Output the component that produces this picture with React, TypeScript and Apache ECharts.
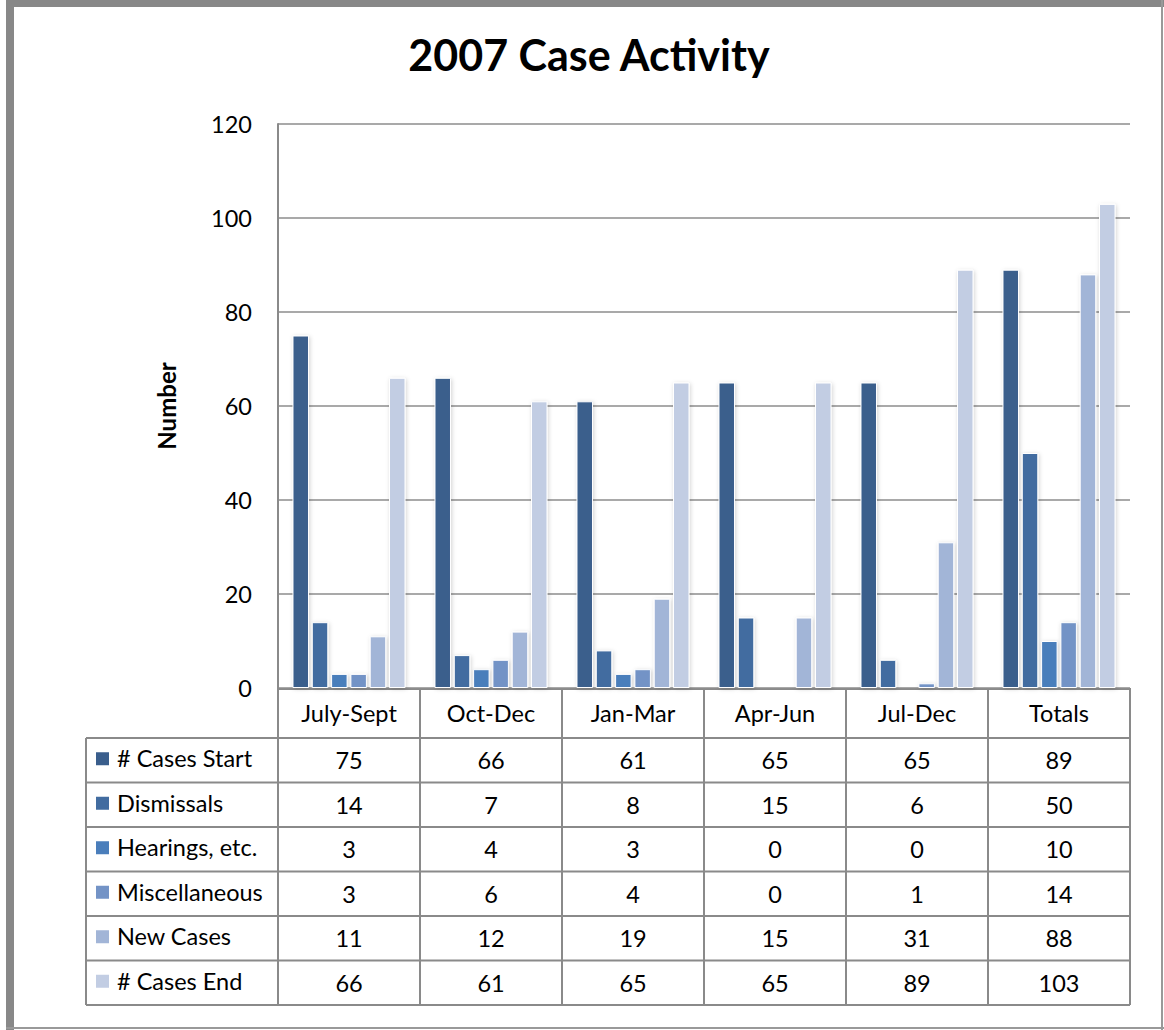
import React, { useEffect, useRef } from "react";
import * as echarts from "echarts";

const categories = ["July-Sept", "Oct-Dec", "Jan-Mar", "Apr-Jun", "Jul-Dec", "Totals"];
const seriesNames = ["# Cases Start", "Dismissals", "Hearings, etc.", "Miscellaneous", "New Cases", "# Cases End"];
const casesStart = [75, 66, 61, 65, 65, 89];
const dismissals = [14, 7, 8, 15, 6, 50];
const hearings = [3, 4, 3, 0, 0, 10];
const miscellaneous = [3, 6, 4, 0, 1, 14];
const newCases = [11, 12, 19, 15, 31, 88];
const casesEnd = [66, 61, 65, 65, 89, 103];
const seriesValues = [casesStart, dismissals, hearings, miscellaneous, newCases, casesEnd];
const seriesColors = ["#3A5E8C", "#426CA0", "#4A7EBB", "#7393C6", "#A2B5D7", "#C2CDE3"];
const yMin = 0;
const yMax = 120;
const yStep = 20;

const W = 1164;
const H = 1030;
const FONT = "Lato, 'Open Sans', sans-serif";
const AX_LEFT = 278;
const AX_RIGHT = 1130;
const AX_TOP = 124;
const AX_BOTTOM = 688;
const TABLE_LEFT = 86;
const HEAD_BOTTOM = 738;
const ROW_H = 44.5;
const LINE_COLOR = "#8a8a8a";
const FS = 23.5;

export default function App() {
  const ref = useRef<HTMLDivElement>(null);

  useEffect(() => {
    document.body.style.margin = "0";
    const chart = echarts.init(ref.current!, null, { renderer: "svg" });
    const colW = (AX_RIGHT - AX_LEFT) / categories.length;
    const tableBottom = HEAD_BOTTOM + ROW_H * seriesNames.length;
    const graphics: any[] = [];

    // outer frame
    graphics.push({ type: "rect", shape: { x: 6, y: 0, width: 8, height: H }, style: { fill: "#888" }, silent: true });
    graphics.push({ type: "rect", shape: { x: 6, y: 0, width: W - 6, height: 7 }, style: { fill: "#888" }, silent: true });
    graphics.push({ type: "rect", shape: { x: W - 3, y: 0, width: 2, height: H }, style: { fill: "#999" }, silent: true });
    graphics.push({ type: "rect", shape: { x: 6, y: H - 3, width: W - 6, height: 2 }, style: { fill: "#999" }, silent: true });

    // title
    graphics.push({
      type: "text",
      x: 589,
      y: 54,
      style: { text: "2007 Case Activity", font: `bold 43px ${FONT}`, fill: "#000", align: "center", verticalAlign: "middle" },
    });

    // table lines
    const hl = (x1: number, x2: number, y: number) =>
      graphics.push({ type: "line", shape: { x1, y1: y, x2, y2: y }, style: { stroke: LINE_COLOR, lineWidth: 2 }, silent: true });
    const vl = (x: number, y1: number, y2: number) =>
      graphics.push({ type: "line", shape: { x1: x, y1, x2: x, y2 }, style: { stroke: LINE_COLOR, lineWidth: 2 }, silent: true });

    hl(AX_LEFT, AX_RIGHT, AX_BOTTOM + 1);
    for (let r = 0; r <= seriesNames.length; r++) hl(TABLE_LEFT, AX_RIGHT, HEAD_BOTTOM + r * ROW_H);
    vl(TABLE_LEFT, HEAD_BOTTOM, tableBottom);
    for (let c = 0; c <= categories.length; c++) vl(AX_LEFT + c * colW, AX_BOTTOM, tableBottom);

    // table rows
    seriesNames.forEach((name, r) => {
      const cy = HEAD_BOTTOM + r * ROW_H + ROW_H / 2;
      graphics.push({ type: "rect", shape: { x: 96, y: cy - 8, width: 13, height: 13 }, style: { fill: seriesColors[r] } });
      graphics.push({
        type: "text",
        x: 117,
        y: cy - 2,
        style: { text: name, font: `${FS}px ${FONT}`, fill: "#000", align: "left", verticalAlign: "middle" },
      });
      seriesValues[r].forEach((v, c) => {
        graphics.push({
          type: "text",
          x: AX_LEFT + c * colW + colW / 2,
          y: cy,
          style: { text: String(v), font: `${FS}px ${FONT}`, fill: "#000", align: "center", verticalAlign: "middle" },
        });
      });
    });

    chart.setOption({
      animation: false,
      backgroundColor: "#fff",
      grid: { left: AX_LEFT, right: W - AX_RIGHT, top: AX_TOP, bottom: H - AX_BOTTOM, containLabel: false },
      xAxis: {
        type: "category",
        data: categories,
        axisLine: { show: false },
        axisTick: { show: false },
        axisLabel: { fontFamily: FONT, fontSize: FS, color: "#000", margin: 13 },
      },
      yAxis: {
        type: "value",
        min: yMin,
        max: yMax,
        interval: yStep,
        name: "Number",
        nameLocation: "middle",
        nameRotate: 90,
        nameGap: 100,
        nameTextStyle: { fontFamily: FONT, fontSize: 24, fontWeight: "bold", color: "#000" },
        axisLine: { show: true, lineStyle: { color: LINE_COLOR, width: 2 } },
        axisTick: { show: false },
        axisLabel: { fontFamily: FONT, fontSize: FS, color: "#000", margin: 26 },
        splitLine: { show: true, lineStyle: { color: "#8c8c8c", width: 1.5 } },
      },
      series: seriesNames.map((name, i) => ({
        name,
        type: "bar",
        data: seriesValues[i].map((v) => (v === 0 ? null : v)),
        barWidth: 16.5,
        barGap: "17%",
        itemStyle: {
          color: seriesColors[i],
          borderColor: "#fff",
          borderWidth: 1,
          shadowColor: "rgba(0,0,0,0.18)",
          shadowBlur: 4,
          shadowOffsetX: 1,
          shadowOffsetY: 1,
        },
      })),
      graphic: graphics,
    });

    return () => chart.dispose();
  }, []);

  return <div ref={ref} style={{ width: W, height: H }} />;
}
